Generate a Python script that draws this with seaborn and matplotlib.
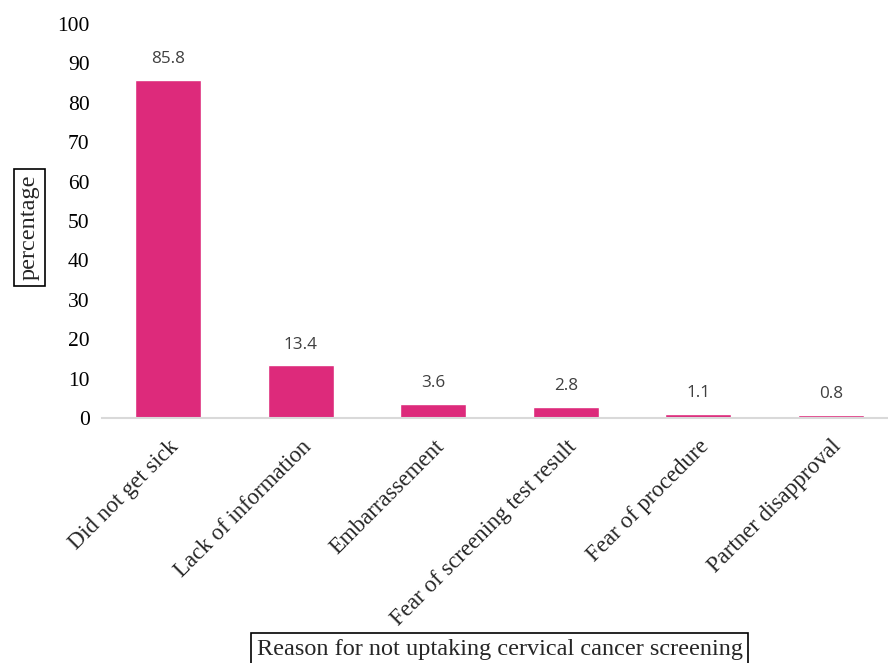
import matplotlib
matplotlib.use("Agg")
import matplotlib.pyplot as plt
import seaborn as sns
import pandas as pd

categories = ["Did not get sick", "Lack of information", "Embarrassement",
              "Fear of screening test result", "Fear of procedure", "Partner disapproval"]
values = [85.8, 13.4, 3.6, 2.8, 1.1, 0.8]
yticks = [0, 10, 20, 30, 40, 50, 60, 70, 80, 90, 100]

df = pd.DataFrame({"reason": categories, "percentage": values})

sns.set_style("white")
plt.rcParams["font.family"] = ["Liberation Serif", "DejaVu Serif"]

W, H = 888, 663
fig = plt.figure(figsize=(W / 100, H / 100), dpi=100)
left, right, top, bottom = 102, 897, 24, 418
ax = fig.add_axes([left / W, (H - bottom) / H, (right - left) / W, (bottom - top) / H])

sns.barplot(data=df, x="reason", y="percentage", color="#DD2A7B", width=0.5,
            saturation=1, ax=ax)

ax.set_ylim(0, 100)
ax.set_xlim(-0.5, len(categories) - 0.5)
ax.set_yticks(yticks)
ax.set_yticklabels([str(t) for t in yticks], fontsize=15.5, color="#000000")
ax.tick_params(axis="y", length=0, pad=9)
ax.tick_params(axis="x", length=0, pad=13)
ax.set_xticks(range(len(categories)))
ax.set_xticklabels(categories, rotation=45, ha="right", rotation_mode="anchor",
                   fontsize=16.5)

for s in ["top", "right", "left"]:
    ax.spines[s].set_visible(False)
ax.spines["bottom"].set_color("#D9D9D9")
ax.spines["bottom"].set_linewidth(1.5)

ax.bar_label(ax.containers[0], labels=[f"{v:.1f}" for v in values], padding=9,
             fontsize=12.3, color="#404040", family=["Open Sans", "DejaVu Sans"])

box = dict(boxstyle="square,pad=0.22", fc="white", ec="black", lw=1.2)
ax.set_ylabel("percentage", fontsize=17.5, bbox=box, va="center")
ax.yaxis.set_label_coords((29.5 - left) / (right - left), (bottom - 227.5) / (bottom - top))
ax.set_xlabel("Reason for not uptaking cervical cancer screening", fontsize=17.5,
              bbox=box, va="center")
ax.xaxis.set_label_coords(0.5, (bottom - 649) / (bottom - top))

fig.savefig("out.png", dpi=100)
